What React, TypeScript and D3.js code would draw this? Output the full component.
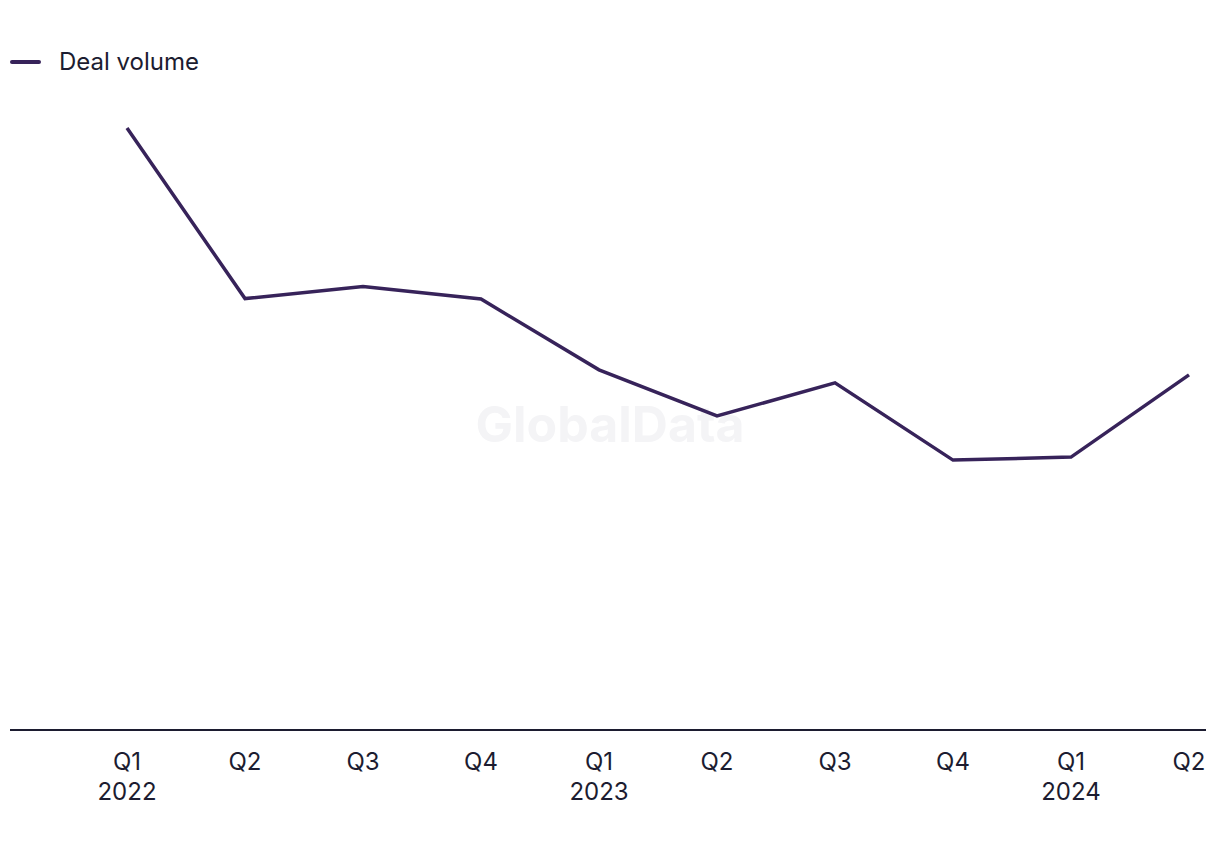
import React, { useEffect, useRef } from "react";
import * as d3 from "d3";

// quarters shown along the bottom
const quarters = ["Q1", "Q2", "Q3", "Q4", "Q1", "Q2", "Q3", "Q4", "Q1", "Q2"];
const years = ["2022", "", "", "", "2023", "", "", "", "2024", ""];
// deal volume (relative units, baseline = 0)
const dealVolume = [120, 86, 88.4, 85.9, 71.8, 62.6, 69.2, 53.8, 54.4, 70.8];

const WIDTH = 1220;
const HEIGHT = 850;
const LINE_COLOR = "#37235a";
const TEXT_COLOR = "#1c1c30";
const FONT = "Inter, 'Noto Sans', sans-serif";

export default function App() {
  const ref = useRef<SVGSVGElement>(null);

  useEffect(() => {
    document.body.style.margin = "0";
    const svg = d3.select(ref.current);
    svg.selectAll("*").remove();

    const idx = quarters.map((_, i) => i);
    const x = d3.scalePoint<number>().domain(idx).range([127, 1189]);
    const y = d3.scaleLinear().domain([0, 120]).range([730, 128]);

    // watermark
    svg
      .append("text")
      .attr("x", 610)
      .attr("y", 442)
      .attr("text-anchor", "middle")
      .attr("font-family", FONT)
      .attr("font-weight", 700)
      .attr("font-size", 50)
      .attr("fill", "#f4f4f6")
      .text("GlobalData");

    // baseline
    svg
      .append("line")
      .attr("x1", 10)
      .attr("x2", 1206)
      .attr("y1", y(0))
      .attr("y2", y(0))
      .attr("stroke", TEXT_COLOR)
      .attr("stroke-width", 2);

    // tick labels
    const ticks = svg
      .append("g")
      .attr("font-family", FONT)
      .attr("font-size", 24)
      .attr("fill", TEXT_COLOR)
      .attr("text-anchor", "middle");
    ticks
      .selectAll("text.q")
      .data(idx)
      .enter()
      .append("text")
      .attr("class", "q")
      .attr("x", (d) => x(d)!)
      .attr("y", 770)
      .text((d) => quarters[d]);
    ticks
      .selectAll("text.yr")
      .data(idx.filter((d) => years[d]))
      .enter()
      .append("text")
      .attr("class", "yr")
      .attr("x", (d) => x(d)!)
      .attr("y", 800)
      .text((d) => years[d]);

    // the series line
    const line = d3
      .line<number>()
      .x((d, i) => x(i)!)
      .y((d) => y(d));
    svg
      .append("path")
      .datum(dealVolume)
      .attr("d", line)
      .attr("fill", "none")
      .attr("stroke", LINE_COLOR)
      .attr("stroke-width", 3.5)
      .attr("stroke-linejoin", "miter");

    // legend
    const legend = svg.append("g");
    legend
      .append("line")
      .attr("x1", 12)
      .attr("x2", 39)
      .attr("y1", 62)
      .attr("y2", 62)
      .attr("stroke", LINE_COLOR)
      .attr("stroke-width", 4)
      .attr("stroke-linecap", "round");
    legend
      .append("text")
      .attr("x", 59)
      .attr("y", 70)
      .attr("font-family", FONT)
      .attr("font-size", 24)
      .attr("fill", TEXT_COLOR)
      .text("Deal volume");
  }, []);

  return <svg ref={ref} width={WIDTH} height={HEIGHT} style={{ display: "block" }} />;
}
